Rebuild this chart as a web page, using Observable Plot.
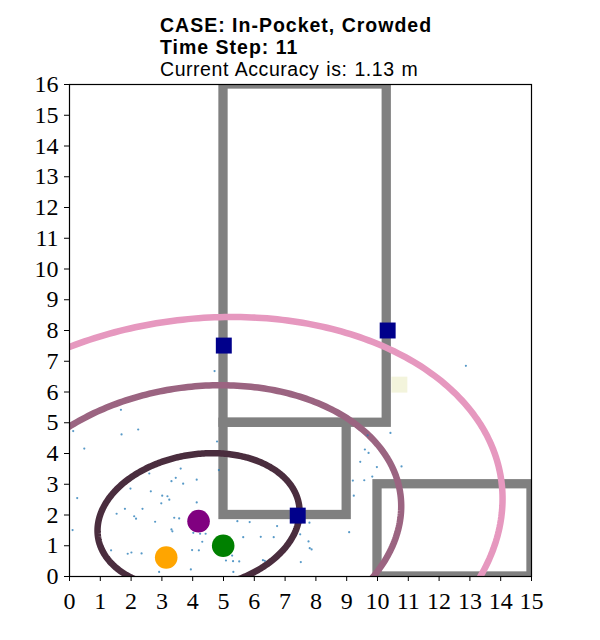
<!DOCTYPE html>
<html>
<head>
<meta charset="utf-8">
<script src="https://cdn.jsdelivr.net/npm/d3@7"></script>
<script src="https://cdn.jsdelivr.net/npm/@observablehq/plot@0.6"></script>
<style>
  html, body { margin: 0; padding: 0; background: white; }
  #title { height: 78px; box-sizing: border-box; padding-top: 14px; padding-left: 160px;
           font-family: "Liberation Sans", Arial, sans-serif; font-size: 19.5px; line-height: 22px; color: black; }
  #title .b { font-weight: bold; letter-spacing: 1px; }
  #title .r { letter-spacing: 0.55px; word-spacing: 1px; }
  #chart svg { display: block; overflow: visible; }
</style>
</head>
<body>
<div id="title">
  <div class="b">CASE: In-Pocket, Crowded</div>
  <div class="b">Time Step: 11</div>
  <div class="r">Current Accuracy is: 1.13 m</div>
</div>
<div id="chart"></div>
<script>
// ---- Data ----
const xTicks = [0,1,2,3,4,5,6,7,8,9,10,11,12,13,14,15];
const yTicks = [0,1,2,3,4,5,6,7,8,9,10,11,12,13,14,15,16];

// walls (rectangles)
const wallX1 = [5, 5, 10];
const wallY1 = [5, 2, 0];
const wallX2 = [10.3, 9, 15];
const wallY2 = [16, 5, 3];

// particles (small blue points)
const particleX = [0.12,1.69,2.23,0.48,4.79,4.85,2.59,3.61,3.31,3.45,3.69,4.13,1.98,2.64,3.01,3.18,3.24,2.98,0.25,1.80,2.37,1.53,2.10,2.16,3.40,3.56,2.78,4.13,0.10,3.31,3.34,4.02,4.24,4.42,4.31,5.64,6.21,5.45,5.85,6.74,6.63,7.49,7.51,7.76,7.80,7.86,6.28,6.34,1.35,2.01,1.89,2.34,3.98,4.20,5.28,5.08,5.31,5.51,3.94,2.91,5.32,9.68,10.42,9.59,9.71,9.44,9.98,10.78,9.20,9.57,9.83,9.23,9.08,7.79,4.71,1.67,12.87];
const particleY = [4.73,4.62,4.78,4.16,4.39,3.46,3.35,3.51,3.10,3.21,3.02,3.15,2.86,2.77,2.63,2.61,2.50,2.38,2.55,2.20,2.20,2.04,1.96,1.88,1.91,1.89,1.78,2.41,1.51,1.53,1.47,1.42,1.39,1.39,1.13,1.28,1.29,1.80,1.77,1.64,1.28,1.37,0.47,1.14,0.92,0.88,0.53,0.51,0.85,0.78,0.74,0.75,0.86,0.85,0.68,0.52,0.50,0.49,0.23,0.15,0.15,4.59,4.67,4.13,4.02,3.73,3.56,3.58,3.12,3.13,3.25,2.63,1.44,1.75,6.68,5.42,6.85];

// anchors (navy squares)
const anchorX = [5.01, 10.33, 7.41];
const anchorY = [7.51, 8.0, 1.98];

// light square
const lightX = [10.71];
const lightY = [6.24];

// position markers
const markerName = ["estimate", "truth", "other"];
const markerX = [4.19, 4.99, 3.14];
const markerY = [1.80, 1.00, 0.62];
const markerColor = ["#800080", "#008000", "#ffa500"];

// uncertainty ellipses: centre, horizontal/vertical half-extent, covariance term
const ellCx = [4.19, 4.19, 4.19];
const ellCy = [1.80, 1.80, 1.80];
const ellSx = [3.28, 6.58, 9.87];
const ellSy = [2.21, 4.42, 6.64];
const ellSxy = [1.0, 3.2, 7.2];
const ellColor = ["#4a2d3e", "#9b6481", "#e698bf"];

// ---- Build tables ----
const walls = wallX1.map((d, i) => ({x1: d, y1: wallY1[i], x2: wallX2[i], y2: wallY2[i]}));
const particles = particleX.map((d, i) => ({x: d, y: particleY[i]}));
const anchors = anchorX.map((d, i) => ({x: d, y: anchorY[i]}));
const lights = lightX.map((d, i) => ({x: d, y: lightY[i]}));
const markers = markerX.map((d, i) => ({name: markerName[i], x: d, y: markerY[i], c: markerColor[i]}));

function ellipseOutline(i) {
  const sx = ellSx[i], sy = ellSy[i];
  const k = ellSxy[i] / sx;
  const m = Math.sqrt(sy * sy - k * k);
  const pts = [];
  for (let a = 0; a < 360; a += 1) {
    const t = a * Math.PI / 180;
    pts.push({x: ellCx[i] + sx * Math.cos(t), y: ellCy[i] + k * Math.cos(t) + m * Math.sin(t)});
  }
  return pts;
}

const ellipseMarks = ellColor.map((c, i) =>
  Plot.line(ellipseOutline(i), {x: "x", y: "y", stroke: c, strokeWidth: 6.5, curve: "linear-closed", clip: true})
);

const chart = Plot.plot({
  width: 600,
  height: 562,
  marginTop: 6,
  marginBottom: 64,
  marginLeft: 69,
  marginRight: 69,
  style: {fontFamily: "'Liberation Serif', serif", fontSize: "24px", color: "black", background: "white", overflow: "visible"},
  x: {domain: [0, 15], label: null},
  y: {domain: [0, 16], label: null},
  marks: [
    Plot.rect(walls, {x1: "x1", y1: "y1", x2: "x2", y2: "y2", fill: "none", stroke: "#808080", strokeWidth: 9.3, clip: true}),
    ...ellipseMarks,
    Plot.dot(particles, {x: "x", y: "y", r: 1.1, fill: "#1f77b4", fillOpacity: 0.75, stroke: "none"}),
    Plot.dot(anchors, {x: "x", y: "y", symbol: "square", r: 9, fill: "#00008b", stroke: "none"}),
    Plot.dot(lights, {x: "x", y: "y", symbol: "square", r: 9, fill: "#f3f4dc", stroke: "none"}),
    Plot.dot(markers, {x: "x", y: "y", r: 11.3, fill: "c", stroke: "none"}),
    Plot.frame({stroke: "black", strokeWidth: 1.2}),
    Plot.axisX({ticks: xTicks, tickFormat: d => String(d), tickSize: 5, tickPadding: 10, fontSize: 24, label: null}),
    Plot.axisY({ticks: yTicks, tickFormat: d => String(d), tickSize: 5, tickPadding: 6, fontSize: 24, label: null})
  ]
});
document.getElementById("chart").appendChild(chart);
</script>
</body>
</html>
